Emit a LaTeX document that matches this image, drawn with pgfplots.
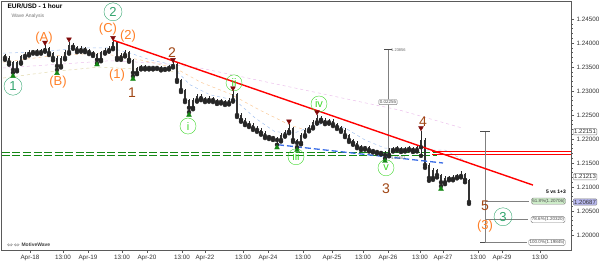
\documentclass[border=0pt]{standalone}
\usepackage{fontspec}
\setmainfont{Liberation Sans}
\usepackage{pgfplots}
\usepackage{pgfplotstable}
\pgfplotsset{compat=1.18}
\definecolor{waveorange}{RGB}{255,127,39}
\definecolor{wavebrown}{RGB}{160,70,20}
\definecolor{waveteal}{RGB}{50,165,110}
\definecolor{wavelime}{RGB}{60,215,40}
\definecolor{dgreen}{RGB}{20,135,20}
\definecolor{dred}{RGB}{128,10,10}
\definecolor{trendblue}{RGB}{60,110,230}
\definecolor{axgray}{RGB}{90,90,90}

\pgfplotstableread{
x o h l c
5 1.2375 1.2378 1.2365 1.2369
9 1.2369 1.2372 1.2355 1.2360
13 1.2360 1.2362 1.2338 1.2344
17 1.2344 1.2363 1.2341 1.2360
21 1.2360 1.2376 1.2357 1.2373
25 1.2373 1.2381 1.2369 1.2377
29 1.2377 1.2385 1.2374 1.2381
33 1.2381 1.2386 1.2378 1.2383
37 1.2383 1.2387 1.2377 1.2381
41 1.2381 1.2388 1.2378 1.2385
45 1.2385 1.2396 1.2382 1.2390
49 1.2390 1.2392 1.2375 1.2379
53 1.2379 1.2381 1.2364 1.2369
57 1.2369 1.2372 1.2344 1.2352
61 1.2352 1.2372 1.2349 1.2369
65 1.2369 1.2385 1.2366 1.2381
69 1.2381 1.2402 1.2378 1.2396
73 1.2396 1.2400 1.2388 1.2392
77 1.2392 1.2394 1.2381 1.2385
81 1.2385 1.2393 1.2382 1.2390
85 1.2390 1.2392 1.2381 1.2385
89 1.2385 1.2388 1.2377 1.2381
93 1.2381 1.2384 1.2373 1.2377
97 1.2377 1.2379 1.2358 1.2365
101 1.2365 1.2384 1.2362 1.2381
105 1.2381 1.2389 1.2378 1.2385
109 1.2385 1.2393 1.2382 1.2390
113 1.2390 1.2406 1.2387 1.2402
117 1.2402 1.2404 1.2365 1.2369
121 1.2369 1.2379 1.2365 1.2375
125 1.2375 1.2385 1.2372 1.2381
129 1.2381 1.2383 1.2361 1.2365
133 1.2365 1.2367 1.2331 1.2338
137 1.2338 1.2351 1.2335 1.2348
141 1.2348 1.2355 1.2345 1.2352
145 1.2352 1.2355 1.2345 1.2348
149 1.2348 1.2353 1.2345 1.2350
153 1.2350 1.2352 1.2345 1.2348
157 1.2348 1.2353 1.2346 1.2350
161 1.2350 1.2352 1.2343 1.2346
165 1.2346 1.2351 1.2344 1.2348
169 1.2348 1.2355 1.2345 1.2352
173 1.2352 1.2360 1.2349 1.2356
177 1.2356 1.2358 1.2319 1.2323
181 1.2323 1.2326 1.2298 1.2302
185 1.2302 1.2305 1.2277 1.2281
189 1.2281 1.2284 1.2256 1.2265
193 1.2265 1.2285 1.2262 1.2281
197 1.2281 1.2294 1.2278 1.2290
201 1.2290 1.2293 1.2281 1.2285
205 1.2285 1.2288 1.2277 1.2281
209 1.2281 1.2289 1.2278 1.2285
213 1.2285 1.2288 1.2277 1.2281
217 1.2281 1.2284 1.2273 1.2277
221 1.2277 1.2283 1.2274 1.2279
225 1.2279 1.2282 1.2271 1.2275
229 1.2275 1.2285 1.2272 1.2281
233 1.2281 1.2300 1.2278 1.2294
237 1.2294 1.2296 1.2246 1.2250
241 1.2250 1.2254 1.2236 1.2240
245 1.2240 1.2244 1.2229 1.2233
249 1.2233 1.2237 1.2225 1.2229
253 1.2229 1.2233 1.2219 1.2223
257 1.2223 1.2227 1.2215 1.2219
261 1.2219 1.2223 1.2209 1.2213
265 1.2213 1.2217 1.2202 1.2206
269 1.2206 1.2209 1.2200 1.2204
273 1.2204 1.2207 1.2198 1.2202
277 1.2202 1.2205 1.2188 1.2198
281 1.2198 1.2212 1.2195 1.2208
285 1.2208 1.2219 1.2205 1.2215
289 1.2215 1.2231 1.2212 1.2223
293 1.2223 1.2226 1.2194 1.2198
297 1.2198 1.2201 1.2183 1.2192
301 1.2192 1.2212 1.2189 1.2208
305 1.2208 1.2223 1.2205 1.2219
309 1.2219 1.2229 1.2216 1.2225
313 1.2225 1.2239 1.2222 1.2235
317 1.2235 1.2250 1.2232 1.2244
321 1.2244 1.2247 1.2236 1.2240
325 1.2240 1.2243 1.2231 1.2235
329 1.2235 1.2241 1.2232 1.2238
333 1.2238 1.2241 1.2227 1.2231
337 1.2231 1.2234 1.2221 1.2225
341 1.2225 1.2228 1.2215 1.2219
345 1.2219 1.2222 1.2204 1.2208
349 1.2208 1.2211 1.2194 1.2198
353 1.2198 1.2201 1.2188 1.2192
357 1.2192 1.2195 1.2181 1.2185
361 1.2185 1.2188 1.2177 1.2181
365 1.2181 1.2186 1.2178 1.2183
369 1.2183 1.2186 1.2174 1.2177
373 1.2177 1.2180 1.2172 1.2175
377 1.2175 1.2178 1.2170 1.2173
381 1.2173 1.2176 1.2168 1.2171
385 1.2171 1.2174 1.2160 1.2167
389 1.2167 1.2181 1.2164 1.2177
393 1.2177 1.2183 1.2174 1.2179
397 1.2179 1.2185 1.2176 1.2181
401 1.2181 1.2184 1.2173 1.2177
405 1.2177 1.2183 1.2174 1.2179
409 1.2179 1.2185 1.2176 1.2181
413 1.2181 1.2184 1.2173 1.2177
417 1.2177 1.2188 1.2174 1.2183
421 1.2183 1.2217 1.2165 1.2198
425 1.2198 1.2203 1.2140 1.2146
429 1.2146 1.2150 1.2113 1.2119
433 1.2119 1.2140 1.2115 1.2135
437 1.2135 1.2138 1.2120 1.2125
441 1.2125 1.2128 1.2102 1.2110
445 1.2110 1.2123 1.2106 1.2119
449 1.2119 1.2122 1.2114 1.2117
453 1.2117 1.2124 1.2114 1.2121
457 1.2121 1.2127 1.2118 1.2123
461 1.2123 1.2133 1.2120 1.2127
465 1.2127 1.2130 1.2110 1.2115
469 1.2115 1.2117 1.2065 1.2069
}\candles

\begin{document}
\begin{tikzpicture}[x=1pt,y=1pt]
\path[use as bounding box] (0,0) rectangle (600,264);
\begin{axis}[
  at={(1pt,14pt)}, anchor=south west,
  scale only axis, width=570pt, height=249pt,
  xmin=1, xmax=571, ymin=1.19688, ymax=1.24875,
  clip=false,
  axis line style={axgray, line width=0.8pt},
  ytick={1.200,1.205,1.210,1.215,1.220,1.225,1.230,1.235,1.240,1.245},
  yticklabel pos=right, ytick pos=right,
  minor y tick num=4,
  yticklabel style={font=\fontsize{6.3}{7}\selectfont, text=black!80, xshift=-1pt,
    /pgf/number format/.cd, fixed, fixed zerofill, precision=5, assume math mode=true},
  xtick pos=bottom,
  xtick={30,63,88,122,147,182,205,243,268,303,332,363,388,420,443,478,502,540},
  xticklabels={Apr-18,13:00,Apr-19,13:00,Apr-20,13:00,Apr-22,13:00,Apr-24,13:00,Apr-25,13:00,Apr-26,13:00,Apr-27,13:00,Apr-29,13:00},
  xticklabel style={font=\fontsize{6.3}{7}\selectfont, text=black!80, yshift=1pt},
  tick align=outside, major tick length=3pt, minor tick length=1.5pt,
  tick style={axgray, line width=0.4pt},
]
% moving averages
\addplot[draw={rgb,255:red,235;green,190;blue,235}, dashed, line width=0.5pt] coordinates {(3,1.2348) (60,1.2356) (110,1.2363) (160,1.2358) (200,1.2348) (300,1.2304) (400,1.2260) (462,1.2223)};
\addplot[draw={rgb,255:red,225;green,215;blue,170}, dashed, line width=0.5pt] coordinates {(3,1.2327) (50,1.2340) (100,1.2350) (150,1.2344) (180,1.2340)};
\addplot[draw={rgb,255:red,250;green,200;blue,150}, dashed, line width=0.5pt] coordinates {(3,1.2360) (50,1.2373) (100,1.2379) (140,1.2365) (175,1.2348) (200,1.2319) (230,1.2294) (260,1.2260) (290,1.2229) (305,1.2219)};
\addplot[draw={rgb,255:red,165;green,195;blue,240}, dashed, line width=0.5pt] coordinates {(3,1.2379) (40,1.2381) (80,1.2390) (110,1.2390) (130,1.2379) (150,1.2365) (170,1.2356) (190,1.2313) (210,1.2292) (235,1.2281) (255,1.2244) (275,1.2215) (295,1.2213) (315,1.2229) (330,1.2233) (345,1.2223) (365,1.2198) (385,1.2181) (405,1.2179) (425,1.2177) (445,1.2177) (467,1.2152)};
% horizontal zones
\addplot[dgreen, line width=1.3pt, dash pattern=on 8pt off 2.5pt] coordinates {(2,1.2172) (437,1.2172)};
\addplot[dgreen, line width=1.3pt, dash pattern=on 8pt off 2.5pt] coordinates {(2,1.2166) (437,1.2166)};
\addplot[red, line width=0.9pt] coordinates {(432,1.2175) (571,1.2175)};
\addplot[red, line width=0.9pt] coordinates {(432,1.2168) (571,1.2168)};
% measurement lines
\addplot[gray, line width=0.5pt] coordinates {(388,1.23856) (388,1.21601)};
\addplot[black!70, line width=0.9pt] coordinates {(384,1.23856) (392,1.23856)};
\addplot[gray, line width=0.5pt] coordinates {(485,1.22151) (485,1.19845)};
\addplot[black!70, line width=0.9pt] coordinates {(480,1.22151) (490,1.22151)};
\addplot[black!70, line width=0.9pt] coordinates {(480,1.19845) (490,1.19845)};
\addplot[gray, line width=0.5pt] coordinates {(485,1.20706) (529,1.20706)};
\addplot[gray, line width=0.5pt] coordinates {(485,1.20320) (528,1.20320)};
\addplot[gray, line width=0.5pt] coordinates {(485,1.19845) (527,1.19845)};
% candles
\addplot[black!85, only marks, mark=none, error bars/.cd, y dir=plus, y explicit, error mark=none,
  error bar style={line width=0.45pt, black!85}]
  table[x=x, y=l, y error expr=\thisrow{h}-\thisrow{l}] {\candles};
\addplot[black!85, only marks, mark=none, error bars/.cd, y dir=plus, y explicit, error mark=none,
  error bar style={line width=1.15pt, black!80}]
  table[x=x, y expr={min(\thisrow{o},\thisrow{c})}, y error expr={abs(\thisrow{c}-\thisrow{o})}] {\candles};
% trend lines
\addplot[red, line width=1.4pt] coordinates {(113,1.2406) (533,1.2104)};
\addplot[trendblue, line width=1.3pt, dash pattern=on 6pt off 3pt] coordinates {(278,1.2188) (443,1.2150)};
% pivot markers
\addplot[only marks, mark=triangle*, mark size=2.8pt, mark options={fill=dgreen, draw=dgreen}] coordinates {(13,1.2331) (57,1.2337) (97,1.2355) (133,1.2325) (189,1.2250) (277,1.2182) (297,1.2177) (385,1.2154) (441,1.2096)};
\addplot[only marks, mark=triangle*, mark size=2.8pt, mark options={fill=dred, draw=dred, rotate=180}] coordinates {(45,1.2401) (69,1.2408) (113,1.2411) (173,1.2365) (233,1.2306) (289,1.2237) (317,1.2256) (421,1.2223)};
% wave labels
\node[circle, draw=waveteal, text=waveteal, line width=0.4pt, minimum size=18pt, inner sep=0pt, font=\fontsize{13}{13}\selectfont] at (axis cs:13,1.2310) {1};
\node[circle, draw=waveteal, text=waveteal, line width=0.4pt, minimum size=18pt, inner sep=0pt, font=\fontsize{13}{13}\selectfont] at (axis cs:113,1.2465) {2};
\node[circle, draw=waveteal, text=waveteal, line width=0.4pt, minimum size=18pt, inner sep=0pt, font=\fontsize{13}{13}\selectfont] at (axis cs:503,1.2038) {3};
\node[text=waveorange, font=\fontsize{13}{13}\selectfont] at (axis cs:44,1.2410) {(A)};
\node[text=waveorange, font=\fontsize{13}{13}\selectfont] at (axis cs:58,1.2319) {(B)};
\node[text=waveorange, font=\fontsize{13}{13}\selectfont, inner sep=0pt] at (axis cs:128,1.2414) {(2)};
\node[text=waveorange, font=\fontsize{13}{13}\selectfont, inner sep=0pt] at (axis cs:108,1.2428) {(C)};
\node[text=waveorange, font=\fontsize{13}{13}\selectfont] at (axis cs:117,1.2333) {(1)};
\node[text=waveorange, font=\fontsize{13}{13}\selectfont] at (axis cs:485,1.2019) {(3)};
\node[text=wavebrown, font=\fontsize{14}{14}\selectfont] at (axis cs:132,1.2296) {1};
\node[text=wavebrown, font=\fontsize{14}{14}\selectfont] at (axis cs:172,1.2381) {2};
\node[text=wavebrown, font=\fontsize{14}{14}\selectfont] at (axis cs:386,1.2096) {3};
\node[text=wavebrown, font=\fontsize{14}{14}\selectfont] at (axis cs:423,1.2237) {4};
\node[text=wavebrown, font=\fontsize{14}{14}\selectfont] at (axis cs:485,1.2060) {5};
\node[circle, draw=wavelime, text=wavelime, line width=0.4pt, minimum size=16pt, inner sep=0pt, font=\fontsize{11}{11}\selectfont] at (axis cs:188,1.2227) {i};
\node[circle, draw=wavelime, text=wavelime, line width=0.4pt, minimum size=16pt, inner sep=0pt, font=\fontsize{11}{11}\selectfont] at (axis cs:234,1.2317) {ii};
\node[circle, draw=wavelime, text=wavelime, line width=0.4pt, minimum size=16pt, inner sep=0pt, font=\fontsize{11}{11}\selectfont] at (axis cs:296,1.2163) {iii};
\node[circle, draw=wavelime, text=wavelime, line width=0.4pt, minimum size=16pt, inner sep=0pt, font=\fontsize{11}{11}\selectfont] at (axis cs:319,1.2273) {iv};
\node[circle, draw=wavelime, text=wavelime, line width=0.4pt, minimum size=16pt, inner sep=0pt, font=\fontsize{11}{11}\selectfont] at (axis cs:386,1.2140) {v};
% titles
\node[anchor=west, font=\bfseries\fontsize{6.5}{7}\selectfont] at (axis cs:4,1.2476) {EUR/USD - 1 hour};
\node[anchor=west, text=black!55, font=\fontsize{5}{6}\selectfont] at (axis cs:8,1.2455) {Wave Analysis};
\node[anchor=west, text=black!75, font=\bfseries\fontsize{5}{6}\selectfont] at (axis cs:3,1.1979) {$\Leftrightarrow\Leftrightarrow$ MotiveWave};
% measurement texts
\node[anchor=west, text=black!60, font=\fontsize{4}{5}\selectfont, inner sep=1pt] at (axis cs:390,1.23856) {1.23856};
\node[anchor=west, text=black!60, font=\fontsize{4}{5}\selectfont, inner sep=1pt] at (axis cs:390,1.21601) {1.21601};
\node[draw=gray, fill=white, rounded corners=1pt, text=black!70, font=\fontsize{4.5}{5}\selectfont, inner sep=1pt] at (axis cs:388,1.2277) {0.02255};
\node[font=\bfseries\fontsize{5}{6}\selectfont] at (axis cs:556,1.2090) {5 vs 1+3};
\node[draw=gray, fill={rgb,255:red,205;green,235;blue,200}, rounded corners=1.5pt, text=black!70, font=\fontsize{4.5}{5}\selectfont, inner sep=1pt] at (axis cs:548.5,1.20706) {61.8\%(1.20706)};
\node[draw=gray, fill=white, rounded corners=1.5pt, text=black!70, font=\fontsize{4.5}{5}\selectfont, inner sep=1pt] at (axis cs:548,1.20320) {78.6\%(1.20320)};
\node[draw=gray, fill=white, rounded corners=1.5pt, text=black!70, font=\fontsize{4.5}{5}\selectfont, inner sep=1pt] at (axis cs:547,1.19845) {100.0\%(1.19845)};
% price boxes on axis
\node[anchor=west, draw=gray, fill=white, rounded corners=1pt, text=black!80, font=\fontsize{6}{6}\selectfont, inner sep=1pt] at (axis cs:573,1.22151) {1.22151};
\node[anchor=west, draw=gray, fill=white, rounded corners=1pt, text=black!80, font=\fontsize{6}{6}\selectfont, inner sep=1pt] at (axis cs:573,1.21213) {1.21213};
\node[anchor=west, draw=gray, fill={rgb,255:red,185;green,185;blue,240}, rounded corners=1pt, text=black!80, font=\fontsize{6}{6}\selectfont, inner sep=1pt] at (axis cs:573,1.20687) {1.20687};
\end{axis}
\end{tikzpicture}
\end{document}
